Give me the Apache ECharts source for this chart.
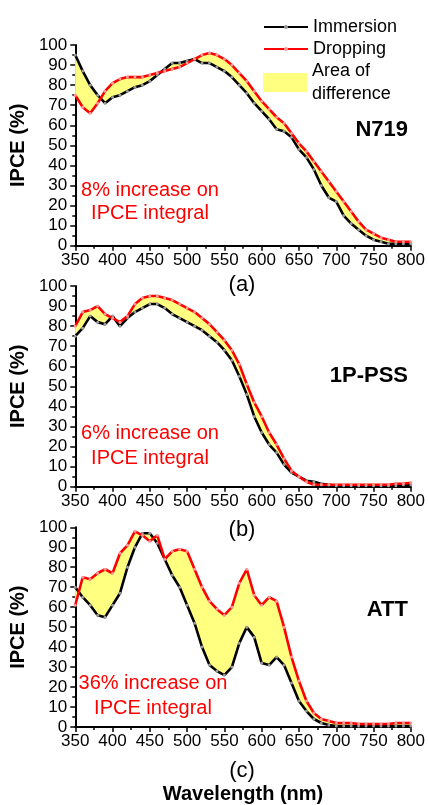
<!DOCTYPE html>
<html><head><meta charset="utf-8">
<script src="https://cdn.jsdelivr.net/npm/echarts@6/dist/echarts.min.js"></script>
<style>html,body{margin:0;padding:0;background:#fff}#c{width:428px;height:805px}</style>
</head><body><div id="c"></div>
<script>
const wavelength = [350,360,370,380,390,400,410,420,430,440,450,460,470,480,490,500,510,520,530,540,550,560,570,580,590,600,610,620,630,640,650,660,670,680,690,700,710,720,730,740,750,760,770,780,790,800];
const xTicks = [350,400,450,500,550,600,650,700,750,800];
const yTicks = [0,10,20,30,40,50,60,70,80,90,100];

const immersionN719 = [95,87,80,75,71, 74,75,77,79,80, 82,85,88,91,91, 92,93,91,91,89, 87,84,80,76,71, 67,63,58,57,54, 48,44,38,30,24, 22,15,11,8,5, 3,2,1,1,1, 1];
const droppingN719  = [75,69,66,71,77, 81,83,84,84,84, 85,86,87,88,89, 91,93,95,96,95, 93,90,86,82,77, 72,68,64,61,56, 51,47,42,37,32, 27,22,17,12,8, 6,4,3,2,2, 2];

const immersionPSS = [75,79,85,82,81, 85,80,84,87,89, 91,91,89,86,84, 82,80,78,75,72, 68,63,55,46,35, 27,21,17,11,7, 5,3,2.5,1.5,1, 0.5,0.5,0.5,0.5,0.5, 0.5,0.5,0.5,0.5,1, 1];
const droppingPSS  = [80,87,88,90,86, 84,82,85,91,94, 95,95,94,93,91, 89,87,84,81,77, 73,68,61,51,42, 35,27,21,14,8, 5,2.5,1,1,1, 1,1,1,1,1, 1,1,1,1.5,1.5, 2];

const immersionATT = [70,65,61,56,55, 61,67,80,90,97, 97,92,84,76,70, 61,52,40,31,28, 26,30,42,50,45, 32,31,35,31,22, 13,8,4,2,1, 0.5,0.5,0.5,0.5,0.5, 0.5,0.5,0.5,0.5,0.5, 0.5];
const droppingATT  = [61,75,74,77,79, 77,87,91,98,96, 93,96,84,88,89, 88,79,70,63,59, 56,60,72,79,66, 61,65,63,50,35, 23,13,7,4,3, 2,2,2,1.5,1.5, 1.5,1.5,1.5,2,2, 2];

const panelNames = ['N719', '1P-PSS', 'ATT'];
const panelTags = ['(a)', '(b)', '(c)'];
const increaseTexts = ['8% increase on', '6% increase on', '36% increase on'];
const integralText = 'IPCE integral';

const FONT = '"Liberation Sans", Arial, sans-serif';
const YELLOW = '#ffff80';
const gridTops = [45, 286, 527.3];
const gridHeights = [200.7, 200.7, 201];

function axisCommon() {
  return {
    axisLine: {show: true, onZero: false, lineStyle: {color: '#000', width: 2}},
    axisTick: {show: true, length: 5, lineStyle: {color: '#000', width: 1.5}},
    minorTick: {show: true, splitNumber: 2, length: 3, lineStyle: {color: '#000', width: 1.5}},
    splitLine: {show: false},
    minorSplitLine: {show: false}
  };
}

const grids = [], xAxes = [], yAxes = [], series = [];
const panels = [[immersionN719, droppingN719], [immersionPSS, droppingPSS], [immersionATT, droppingATT]];

panels.forEach((p, i) => {
  grids.push({left: 68, width: 343, top: gridTops[i], height: gridHeights[i]});
  xAxes.push(Object.assign(axisCommon(), {
    gridIndex: i, type: 'value', min: xTicks[0], max: xTicks[xTicks.length - 1], interval: 50,
    axisLabel: {color: '#000', fontSize: 17, fontFamily: FONT, margin: 6},
    name: i === 2 ? 'Wavelength (nm)' : '', nameLocation: 'middle', nameGap: 57,
    nameTextStyle: {color: '#000', fontSize: 20, fontWeight: 'bold', fontFamily: FONT}
  }));
  yAxes.push(Object.assign(axisCommon(), {
    gridIndex: i, type: 'value', min: yTicks[0], max: yTicks[yTicks.length - 1], interval: 10,
    axisLabel: {color: '#000', fontSize: 17, fontFamily: FONT, margin: 8},
    name: 'IPCE (%)', nameLocation: 'middle', nameGap: 37,
    nameTextStyle: {color: '#000', fontSize: 20, fontWeight: 'bold', fontFamily: FONT}
  }));
  const imm = p[0], drop = p[1];
  series.push({
    type: 'custom', name: 'Area of difference', xAxisIndex: i, yAxisIndex: i, clip: true, silent: true,
    data: wavelength.map((w, k) => [w, imm[k], drop[k]]),
    encode: {x: 0, y: [1, 2]},
    itemStyle: {color: YELLOW},
    z: 1,
    renderItem: function (params, api) {
      const k = params.dataIndex;
      if (k >= wavelength.length - 1) return null;
      const pts = [
        api.coord([wavelength[k], imm[k]]),
        api.coord([wavelength[k + 1], imm[k + 1]]),
        api.coord([wavelength[k + 1], drop[k + 1]]),
        api.coord([wavelength[k], drop[k]])
      ];
      return {type: 'polygon', shape: {points: pts},
        style: {fill: YELLOW, stroke: YELLOW, lineWidth: 0.8}};
    }
  });
  series.push({
    type: 'line', name: 'Immersion', xAxisIndex: i, yAxisIndex: i,
    data: wavelength.map((w, k) => [w, imm[k]]),
    symbol: 'circle', symbolSize: 3, showAllSymbol: true,
    lineStyle: {color: '#000', width: 2.6}, itemStyle: {color: '#9a9a9a'}, z: 3
  });
  series.push({
    type: 'line', name: 'Dropping', xAxisIndex: i, yAxisIndex: i,
    data: wavelength.map((w, k) => [w, drop[k]]),
    symbol: 'circle', symbolSize: 3, showAllSymbol: true,
    lineStyle: {color: '#ff0000', width: 2.6}, itemStyle: {color: '#ff9a9a'}, z: 4
  });
});

const graphic = [];
const tagY = [285, 530, 771];
const nameY = [130, 376, 610];
const incY = [[190, 213], [433, 458], [683, 708]];
const incX = [150, 150, 153];
panels.forEach((p, i) => {
  graphic.push({type: 'text', x: 242, y: tagY[i], style: {text: panelTags[i], fill: '#000', font: '22px ' + FONT, align: 'center', verticalAlign: 'middle'}});
  graphic.push({type: 'text', x: 408, y: nameY[i], style: {text: panelNames[i], fill: '#000', font: 'bold 22px ' + FONT, align: 'right', verticalAlign: 'middle'}});
  graphic.push({type: 'text', x: incX[i], y: incY[i][0], style: {text: increaseTexts[i], fill: '#ff0000', font: '20px ' + FONT, align: 'center', verticalAlign: 'middle'}});
  graphic.push({type: 'text', x: incX[i], y: incY[i][1], style: {text: integralText, fill: '#ff0000', font: '20px ' + FONT, align: 'center', verticalAlign: 'middle'}});
});

const chart = echarts.init(document.getElementById('c'), null, {renderer: 'canvas'});
chart.setOption({
  animation: false,
  backgroundColor: '#fff',
  grid: grids, xAxis: xAxes, yAxis: yAxes, series: series,
  legend: [
    {data: ['Immersion', 'Dropping'], orient: 'vertical', left: 258, top: 11, itemWidth: 44, itemHeight: 5, itemGap: 0,
     selectedMode: false, textStyle: {color: '#000', fontSize: 18, fontFamily: FONT, lineHeight: 22}},
    {data: [{name: 'Area of difference', icon: 'rect', itemStyle: {color: YELLOW}}], orient: 'vertical', left: 258, top: 53, itemWidth: 44, itemHeight: 19,
     selectedMode: false, formatter: n => n.replace(' difference', '\ndifference'),
     textStyle: {color: '#000', fontSize: 18, fontFamily: FONT, lineHeight: 23, padding: [3, 0, 0, 0]}}
  ],
  graphic: graphic
});
</script></body></html>
